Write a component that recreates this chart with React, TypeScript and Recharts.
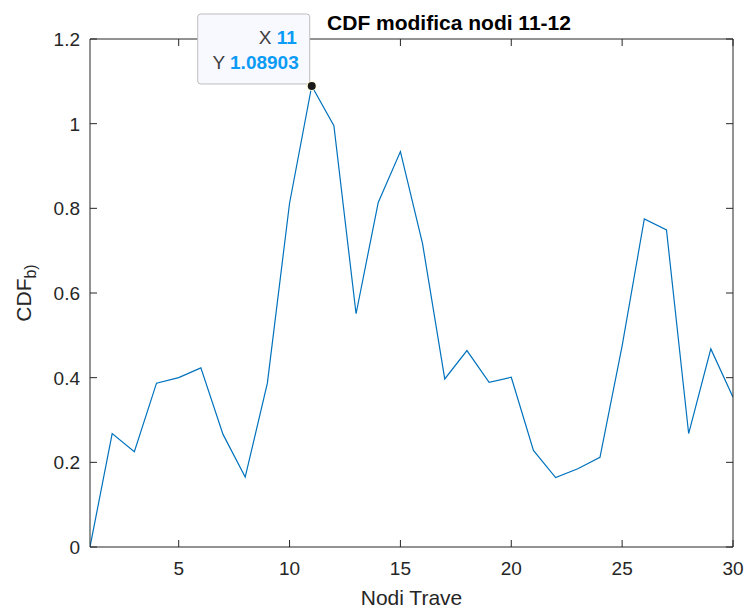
import React from 'react';
import { LineChart, Line, XAxis, YAxis, ReferenceDot, Label } from 'recharts';

// Nodi della trave e valori CDF
const nodi = [1, 2, 3, 4, 5, 6, 7, 8, 9, 10, 11, 12, 13, 14, 15, 16, 17, 18, 19, 20, 21, 22, 23, 24, 25, 26, 27, 28, 29, 30];
const cdfValori = [
  0, 0.268, 0.225, 0.387, 0.4, 0.423, 0.266, 0.165, 0.387, 0.812,
  1.08903, 0.995, 0.551, 0.814, 0.934, 0.716, 0.397, 0.464, 0.389, 0.401,
  0.228, 0.164, 0.185, 0.212, 0.475, 0.775, 0.749, 0.268, 0.468, 0.354,
];
const xTicks = [5, 10, 15, 20, 25, 30];
const yTicks = [0, 0.2, 0.4, 0.6, 0.8, 1, 1.2];

// datatip
const tipX = 11;
const tipY = 1.08903;

const data = nodi.map((n, i) => ({ nodo: n, cdf: cdfValori[i] }));

const FONT = '"Liberation Sans", Arial, Helvetica, sans-serif';
const AX = '#262626';
const TICK_LEN = 7;

const BottomTick = ({ x, y, payload }: any) => (
  <g>
    <line x1={x} y1={y} x2={x} y2={y - TICK_LEN} stroke={AX} />
    <text x={x} y={y + 28} textAnchor="middle" fill={AX} fontSize={19} fontFamily={FONT}>
      {payload.value}
    </text>
  </g>
);

const TopTick = ({ x, y }: any) => (
  <line x1={x} y1={y} x2={x} y2={y + TICK_LEN} stroke={AX} />
);

const LeftTick = ({ x, y, payload }: any) => (
  <g>
    <line x1={x} y1={y} x2={x + TICK_LEN} y2={y} stroke={AX} />
    <text x={x - 10} y={y + 7} textAnchor="end" fill={AX} fontSize={19} fontFamily={FONT}>
      {String(payload.value)}
    </text>
  </g>
);

const RightTick = ({ x, y }: any) => (
  <line x1={x} y1={y} x2={x - TICK_LEN} y2={y} stroke={AX} />
);

// box del datatip, disegnato come label del punto selezionato (sopra gli assi)
const DataTip = ({ x, y, index }: any) => {
  if (x == null || y == null || nodi[index] !== tipX) return null;
  const cx = x;
  const cy = y;
  return (
    <g>
      <rect x={cx - 114} y={cy - 72} width={112} height={70} rx={3} fill="#f8f8ff" stroke="#bdbdbd" />
      <text x={cx - 15} y={cy - 42} textAnchor="end" fontSize={19} fontFamily={FONT}>
        <tspan fill="#404040">X </tspan>
        <tspan fill="#0a9bf5" fontWeight="bold">{tipX}</tspan>
      </text>
      <text x={cx - 13} y={cy - 17} textAnchor="end" fontSize={19} fontFamily={FONT}>
        <tspan fill="#404040">Y </tspan>
        <tspan fill="#0a9bf5" fontWeight="bold">{tipY}</tspan>
      </text>
      <circle cx={cx} cy={cy} r={5} fill="#fffbd0" />
      <circle cx={cx} cy={cy} r={4} fill="#1a1a1a" />
    </g>
  );
};

export default function App() {
  return (
    <div style={{ position: 'absolute', left: 0, top: 0, background: '#fff' }}>
      <LineChart width={747} height={608} data={data} margin={{ top: 38, right: 13, left: 0, bottom: 0 }}>
        <XAxis
          dataKey="nodo"
          type="number"
          domain={[1, 30]}
          ticks={xTicks}
          allowDataOverflow
          height={61}
          tickSize={0}
          tickMargin={0}
          tickLine={false}
          axisLine={{ stroke: AX }}
          tick={<BottomTick />}
        >
          <Label
            content={({ viewBox }: any) => (
              <text
                x={viewBox.x + viewBox.width / 2}
                y={605}
                textAnchor="middle"
                fill={AX}
                fontSize={21}
                fontFamily={FONT}
              >
                Nodi Trave
              </text>
            )}
          />
        </XAxis>
        <XAxis
          xAxisId="top"
          dataKey="nodo"
          orientation="top"
          type="number"
          domain={[1, 30]}
          ticks={xTicks}
          allowDataOverflow
          height={1}
          tickSize={0}
          tickMargin={0}
          tickLine={false}
          axisLine={{ stroke: AX }}
          tick={<TopTick />}
        />
        <YAxis
          type="number"
          domain={[0, 1.2]}
          ticks={yTicks}
          allowDataOverflow
          width={90}
          tickSize={0}
          tickMargin={0}
          tickLine={false}
          axisLine={{ stroke: AX }}
          tick={<LeftTick />}
        >
          <Label
            content={({ viewBox }: any) => {
              const cy = viewBox.y + viewBox.height / 2;
              return (
                <g>
                  <text
                    x={31}
                    y={cy}
                    transform={`rotate(-90, 31, ${cy})`}
                    textAnchor="middle"
                    fill={AX}
                    fontSize={21}
                    fontFamily={FONT}
                  >
                    CDF
                    <tspan fontSize={16} dy={5}>b)</tspan>
                  </text>
                  <text
                    x={449}
                    y={30}
                    textAnchor="middle"
                    fill="#000"
                    fontSize={21}
                    fontWeight="bold"
                    fontFamily={FONT}
                  >
                    CDF modifica nodi 11-12
                  </text>
                </g>
              );
            }}
          />
        </YAxis>
        <YAxis
          yAxisId="right"
          orientation="right"
          type="number"
          domain={[0, 1.2]}
          ticks={yTicks}
          allowDataOverflow
          width={1}
          tickSize={0}
          tickMargin={0}
          tickLine={false}
          axisLine={{ stroke: AX }}
          tick={<RightTick />}
        />
        <Line
          xAxisId="top"
          yAxisId="right"
          type="linear"
          dataKey="cdf"
          stroke="none"
          dot={false}
          activeDot={false}
          isAnimationActive={false}
        />
        <Line
          type="linear"
          dataKey="cdf"
          stroke="#0072bd"
          strokeWidth={1.2}
          dot={false}
          activeDot={false}
          label={<DataTip />}
          isAnimationActive={false}
        />
        <ReferenceDot x={tipX} y={tipY} r={0} ifOverflow="visible" fill="none" stroke="none" />
      </LineChart>
    </div>
  );
}
